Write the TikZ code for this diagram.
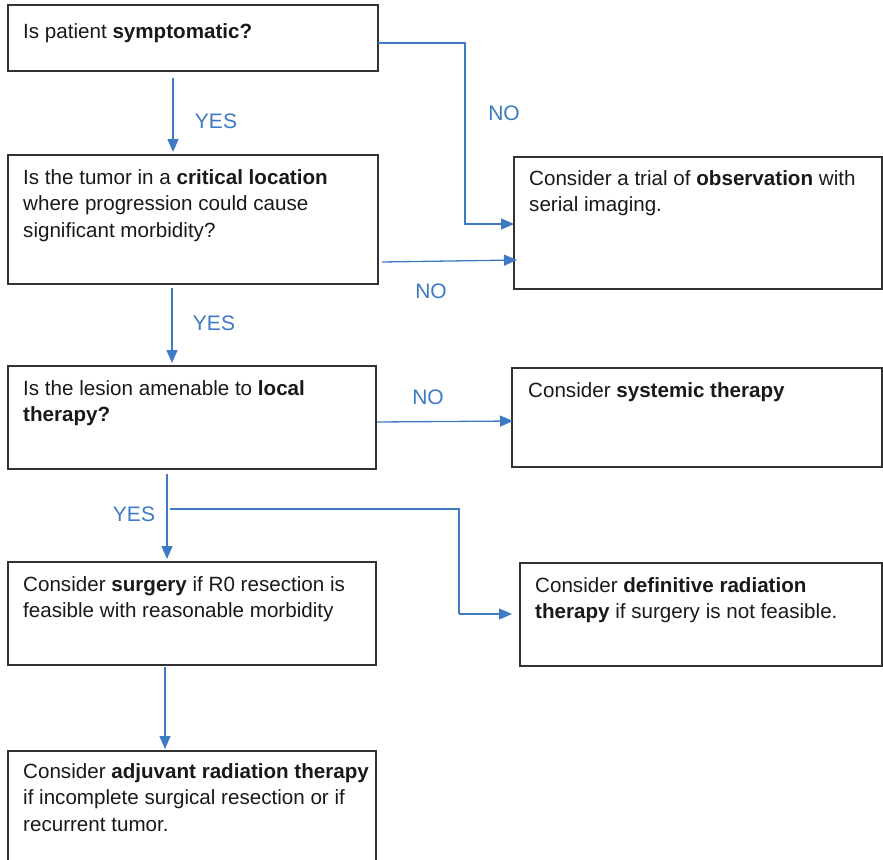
\documentclass[tikz,border=0pt]{standalone}
\usepackage{fontspec}
\setmainfont{Liberation Sans}
\usetikzlibrary{arrows.meta,calc}
\definecolor{flowblue}{RGB}{62,122,195}
\definecolor{boxline}{RGB}{50,50,50}
\definecolor{txt}{RGB}{25,25,25}
\newcommand{\fst}{\rule{0pt}{18pt}}
\tikzset{
  box/.style={draw=boxline,line width=1.2pt,inner sep=0pt,outer sep=0pt},
  btext/.style={anchor=north west,align=left,inner sep=0pt,text=txt,font=\fontsize{20.6}{26.5}\selectfont},
  lbl/.style={text=flowblue,font=\fontsize{21}{24}\selectfont,inner sep=0pt},
  arr/.style={draw=flowblue,line width=1.3pt,-{Triangle[length=13pt,width=11pt]}},
}
\begin{document}
\begin{tikzpicture}[x=1pt,y=-1pt]
\useasboundingbox (0,0) rectangle (883,859);
\clip (0,0) rectangle (883,859);
% boxes
\node[box,minimum width=370,minimum height=66] (b1) at (193,38) {};
\node[box,minimum width=370,minimum height=129] (b2) at (193,219.5) {};
\node[box,minimum width=368,minimum height=132] (obs) at (698,223) {};
\node[box,minimum width=368,minimum height=103] (b3) at (192,417.5) {};
\node[box,minimum width=370,minimum height=99] (sys) at (697,417.5) {};
\node[box,minimum width=368,minimum height=103] (surg) at (192,613.5) {};
\node[box,minimum width=362,minimum height=103] (def) at (701,614.5) {};
\node[box,minimum width=368,minimum height=140] (adj) at (192,821) {};
% texts (node top = first baseline - 18)
\node[btext] (t1) at (23,20) {\fst Is patient \textbf{symptomatic?}};
\node[btext] (t2) at (23,166) {\fst Is the tumor in a \textbf{critical location}\\where progression could cause\\significant morbidity?};
\node[btext] (tobs) at (529,167) {\fst Consider a trial of \textbf{observation} with\\serial imaging.};
\node[btext] (t3) at (23,377) {\fst Is the lesion amenable to \textbf{local}\\\textbf{therapy?}};
\node[btext] (tsys) at (528,379) {\fst Consider \textbf{systemic therapy}};
\node[btext] (tsurg) at (23,573) {\fst Consider \textbf{surgery} if R0 resection is\\feasible with reasonable morbidity};
\node[btext] (tdef) at (535,574) {\fst Consider \textbf{definitive radiation}\\\textbf{therapy} if surgery is not feasible.};
\node[btext] (tadj) at (23,760) {\fst Consider \textbf{adjuvant radiation therapy}\\if incomplete surgical resection or if\\recurrent tumor.};
% connector points
\coordinate (s1) at (173,78);
\coordinate (k1) at (465,224);
\coordinate (s3) at (382,262);
\coordinate (e3) at (517,260);
\coordinate (s4) at (172,288);
\coordinate (s5) at (377,422);
\coordinate (e5) at (513,421);
\coordinate (s6) at (167,474);
\coordinate (s7) at (170,509);
\coordinate (k7) at (459,614);
\coordinate (e7) at (512,614);
\coordinate (s8) at (165,667);
% connectors
\draw[arr] (s1) -- ([yshift=3pt]s1 |- b2.north);
\draw[arr] ([yshift=-5pt]b1.east) -| (k1) -- (k1 -| obs.west);
\draw[arr] (s3) -- (e3);
\draw[arr] (s4) -- ([yshift=3pt]s4 |- b3.north);
\draw[arr] (s5) -- (e5);
\draw[arr] (s6) -- ([yshift=3pt]s6 |- surg.north);
\draw[draw=flowblue,line width=1.3pt] (s7) -| (k7);
\draw[arr] (k7) -- (e7);
\draw[arr] (s8) -- ([yshift=2pt]s8 |- adj.north);
% labels
\node[lbl] (y1) at (216,121) {YES};
\node[lbl] (n1) at (504,113) {NO};
\node[lbl] (n2) at (431,291) {NO};
\node[lbl] (y2) at (214,323) {YES};
\node[lbl] (n3) at (428,397) {NO};
\node[lbl] (y3) at (134,514) {YES};
\end{tikzpicture}
\end{document}
